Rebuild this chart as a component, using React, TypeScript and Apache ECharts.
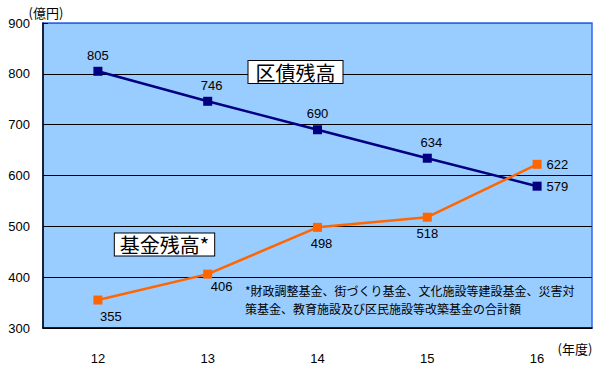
import React, { useEffect, useRef } from "react";
import * as echarts from "echarts";

const categories = ["12", "13", "14", "15", "16"];
const debtValues = [805, 746, 690, 634, 579];
const fundValues = [355, 406, 498, 518, 622];
const yTicks = { min: 300, max: 900, interval: 100 };

const NUM_FONT = "'Liberation Sans', 'Noto Sans CJK JP', sans-serif";
const JP_FONT = "'Noto Sans CJK JP', sans-serif";

export default function App() {
  const ref = useRef<HTMLDivElement>(null);
  useEffect(() => {
    if (!ref.current) return;
    const chart = echarts.init(ref.current, undefined, { renderer: "svg" });
    const fundLabel = [
      { position: "bottom", offset: [13, 0] },
      { position: "bottom", offset: [14, -4] },
      { position: "bottom", offset: [4, 0] },
      { position: "bottom", offset: [0, 0] },
      { position: "right", offset: [0, 0] },
    ];
    const debtLabel = [
      { position: "top" },
      { position: "top", offset: [4, 0] },
      { position: "top" },
      { position: "top", offset: [4, 0] },
      { position: "right" },
    ];
    chart.setOption({
      animation: false,
      grid: {
        left: 43,
        top: 23,
        right: 8,
        bottom: 42,
        show: true,
        backgroundColor: "#99CCFF",
        borderColor: "#3366EE",
        borderWidth: 1.5,
      },
      xAxis: {
        type: "category",
        data: categories,
        boundaryGap: true,
        axisLine: { lineStyle: { color: "#000", width: 1.5 } },
        axisTick: { inside: true, length: 5, lineStyle: { color: "#000" } },
        axisLabel: { color: "#000", fontSize: 13, fontFamily: NUM_FONT, margin: 24 },
        splitLine: { show: false },
      },
      yAxis: {
        type: "value",
        min: yTicks.min,
        max: yTicks.max,
        interval: yTicks.interval,
        axisLine: { show: true, lineStyle: { color: "#000", width: 1.5 } },
        axisTick: { show: true, inside: true, length: 5, lineStyle: { color: "#000" } },
        axisLabel: { color: "#000", fontSize: 13, fontFamily: NUM_FONT, margin: 13 },
        splitLine: {
          show: true,
          lineStyle: {
            color: ["#000", "#000", "#000", "#000", "#000", "#000", "#3366EE"],
            width: 1,
          },
        },
      },
      series: [
        {
          type: "line",
          data: debtValues.map((v, i) => ({
            value: v,
            label: { ...debtLabel[i] },
          })),
          symbol: "rect",
          symbolSize: 9,
          lineStyle: { color: "#000080", width: 2.5 },
          itemStyle: { color: "#000080" },
          label: {
            show: true,
            color: "#000",
            fontSize: 13,
            fontFamily: NUM_FONT,
            distance: 5,
          },
          z: 3,
        },
        {
          type: "line",
          data: fundValues.map((v, i) => ({
            value: v,
            label: { ...fundLabel[i] },
          })),
          symbol: "rect",
          symbolSize: 9,
          lineStyle: { color: "#FF6600", width: 2.5 },
          itemStyle: { color: "#FF6600" },
          label: {
            show: true,
            color: "#000",
            fontSize: 13,
            fontFamily: NUM_FONT,
            distance: 5,
          },
          z: 4,
        },
      ],
      graphic: [
        {
          type: "text",
          x: 46,
          y: 12,
          style: {
            text: "(億円)",
            fontSize: 13,
            fontFamily: JP_FONT,
            fill: "#000",
            align: "center",
            verticalAlign: "middle",
          },
        },
        {
          type: "text",
          x: 575,
          y: 348,
          style: {
            text: "(年度)",
            fontSize: 13,
            fontFamily: JP_FONT,
            fill: "#000",
            align: "center",
            verticalAlign: "middle",
          },
        },
        {
          type: "text",
          x: 295.5,
          y: 72,
          z: 10,
          style: {
            text: "区債残高",
            fontSize: 20,
            fontFamily: JP_FONT,
            fill: "#000",
            align: "center",
            verticalAlign: "middle",
            backgroundColor: "#fff",
            borderColor: "#000",
            borderWidth: 1,
            padding: [1, 7, 1, 7],
          },
        },
        {
          type: "text",
          x: 164.5,
          y: 244.5,
          z: 10,
          style: {
            text: "基金残高*",
            fontSize: 20,
            fontFamily: JP_FONT,
            fill: "#000",
            align: "center",
            verticalAlign: "middle",
            backgroundColor: "#fff",
            borderColor: "#000",
            borderWidth: 1,
            padding: [1, 5, 1, 5],
          },
        },
        {
          type: "text",
          x: 245,
          y: 299.5,
          z: 10,
          style: {
            text:
              "*財政調整基金、街づくり基金、文化施設等建設基金、災害対\n策基金、教育施設及び区民施設等改築基金の合計額",
            fontSize: 12,
            lineHeight: 18,
            fontFamily: JP_FONT,
            fill: "#000",
            align: "left",
            verticalAlign: "middle",
          },
        },
      ],
    });
    return () => chart.dispose();
  }, []);
  return <div ref={ref} style={{ width: 600, height: 370, position: "absolute", left: 0, top: 0 }} />;
}
